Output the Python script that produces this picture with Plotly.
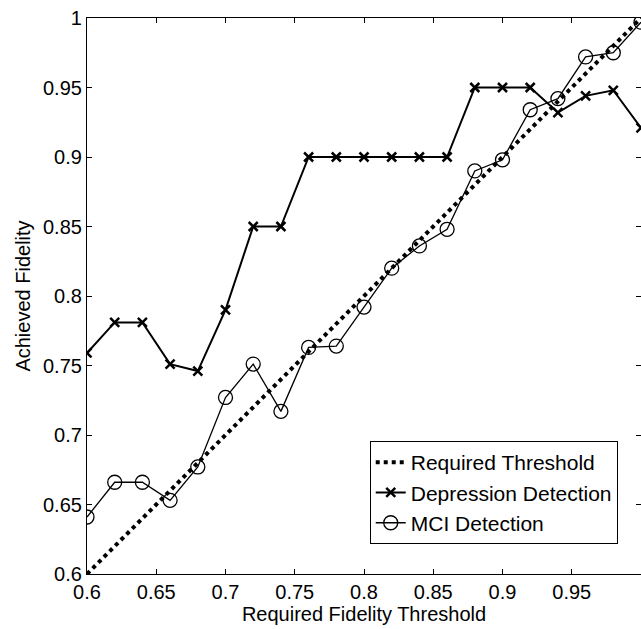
import plotly.graph_objects as go

x_vals = [0.60, 0.62, 0.64, 0.66, 0.68, 0.70, 0.72, 0.74, 0.76, 0.78, 0.80,
          0.82, 0.84, 0.86, 0.88, 0.90, 0.92, 0.94, 0.96, 0.98, 1.00]
threshold = [0.6, 1.0]
threshold_x = [0.6, 1.0]
depression = [0.759, 0.781, 0.781, 0.751, 0.746, 0.790, 0.850, 0.850, 0.900, 0.900, 0.900,
              0.900, 0.900, 0.900, 0.950, 0.950, 0.950, 0.932, 0.944, 0.948, 0.921]
mci = [0.641, 0.666, 0.666, 0.653, 0.677, 0.727, 0.751, 0.717, 0.763, 0.764, 0.792,
       0.820, 0.836, 0.848, 0.890, 0.898, 0.934, 0.942, 0.972, 0.975, 0.997]
tick_vals = [0.6, 0.65, 0.7, 0.75, 0.8, 0.85, 0.9, 0.95, 1.0]
tick_text = ["0.6", "0.65", "0.7", "0.75", "0.8", "0.85", "0.9", "0.95", "1"]

fig = go.Figure()
fig.add_trace(go.Scatter(x=threshold_x, y=threshold, mode="lines", name="Required Threshold",
                         line=dict(color="black", width=4, dash="dot")))
fig.add_trace(go.Scatter(x=x_vals, y=depression, mode="lines+markers", name="Depression Detection",
                         line=dict(color="black", width=2),
                         marker=dict(symbol="x-thin-open", size=9, color="black",
                                     line=dict(color="black", width=2.5))))
fig.add_trace(go.Scatter(x=x_vals, y=mci, mode="lines+markers", name="MCI Detection",
                         line=dict(color="black", width=1.3),
                         marker=dict(symbol="circle-open", size=14, color="black",
                                     line=dict(color="black", width=1.3))))

font_family = "Liberation Sans, Arial, sans-serif"
axis_common = dict(
    showgrid=False, zeroline=False, showline=True, linecolor="black", linewidth=1.2,
    mirror="ticks", ticks="inside", ticklen=5, tickcolor="black",
    tickfont=dict(family=font_family, size=20, color="black"),
    tickvals=tick_vals, ticktext=tick_text, automargin=False,
)
fig.update_xaxes(range=[0.6, 1.0], title=dict(text="Required Fidelity Threshold",
                 font=dict(family=font_family, size=20, color="black"), standoff=4),
                 **axis_common)
fig.update_yaxes(range=[0.6, 1.0], title=dict(text="Achieved Fidelity",
                 font=dict(family=font_family, size=20, color="black"), standoff=6),
                 **axis_common)

fig.update_layout(
    width=641, height=629,
    margin=dict(l=87, r=0, t=18, b=55, autoexpand=False),
    plot_bgcolor="white", paper_bgcolor="white",
    showlegend=True,
    legend=dict(x=0.958, y=0.054, xanchor="right", yanchor="bottom",
                bgcolor="white", bordercolor="black", borderwidth=1,
                font=dict(family=font_family, size=21, color="black"),
                itemwidth=30),
)

fig.write_html("out.html", config={"displayModeBar": False},
               post_script="document.body.style.margin='0';document.body.style.overflow='hidden';")
